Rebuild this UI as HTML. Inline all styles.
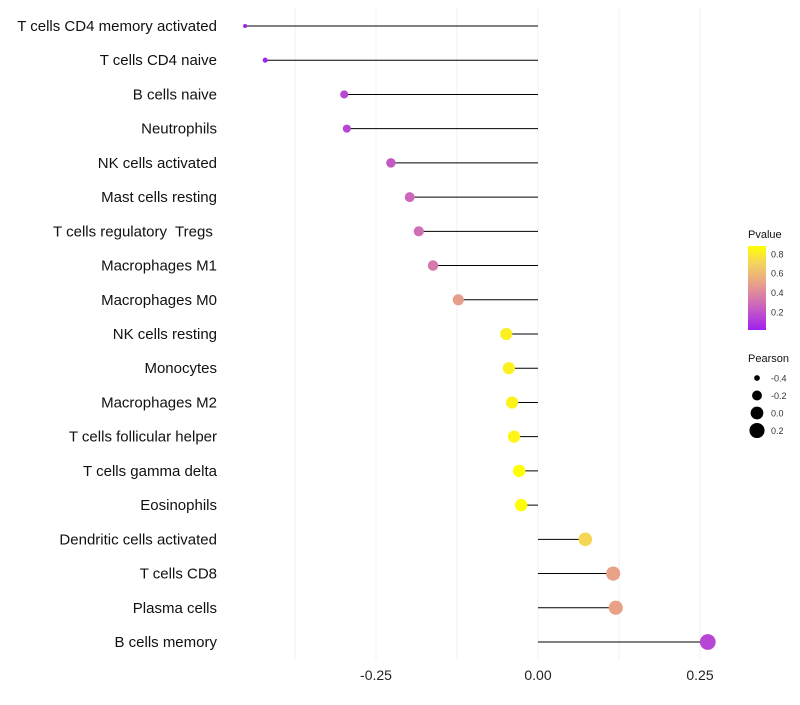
<!DOCTYPE html>
<html><head><meta charset="utf-8"><style>
body{margin:0;background:#fff;font-family:"Liberation Sans",sans-serif}
text{white-space:pre}
</style></head><body>
<svg id="chart" width="800" height="700" xmlns="http://www.w3.org/2000/svg"></svg>
<script>
const categories=["T cells CD4 memory activated","T cells CD4 naive","B cells naive","Neutrophils","NK cells activated","Mast cells resting","T cells regulatory  Tregs ","Macrophages M1","Macrophages M0","NK cells resting","Monocytes","Macrophages M2","T cells follicular helper","T cells gamma delta","Eosinophils","Dendritic cells activated","T cells CD8","Plasma cells","B cells memory"];
const pearson=[-0.452,-0.421,-0.299,-0.295,-0.227,-0.198,-0.184,-0.162,-0.123,-0.049,-0.045,-0.040,-0.037,-0.029,-0.026,0.073,0.116,0.120,0.262];
const pvalue=[0.01,0.03,0.15,0.15,0.22,0.27,0.3,0.34,0.48,0.82,0.82,0.83,0.84,0.88,0.88,0.72,0.5,0.5,0.15];
const xTicks=[-0.25,0,0.25];
const xTickLabels=["-0.25","0.00","0.25"];
const pTicks=[0.2,0.4,0.6,0.8];
const sizeTicks=[-0.4,-0.2,0.0,0.2];

const svg=document.getElementById('chart');
const NS='http://www.w3.org/2000/svg';
function mk(t,a,p){const e=document.createElementNS(NS,t);for(const k in a)e.setAttribute(k,a[k]);(p||svg).appendChild(e);return e;}
const x=v=>538+v*648;
const y=i=>26+i*(616/(categories.length-1));
const pMin=0.014,pMax=0.88;
const stops=[[0,[160,32,240]],[0.3,[206,104,186]],[0.55,[232,160,138]],[0.8,[245,212,92]],[1,[255,255,0]]];
function col(p){let t=Math.max(0,Math.min(1,(p-pMin)/(pMax-pMin)));for(let k=1;k<stops.length;k++){if(t<=stops[k][0]){const a=stops[k-1],b=stops[k];const u=(t-a[0])/(b[0]-a[0]);return `rgb(${a[1].map((v,j)=>Math.round(v+(b[1][j]-v)*u))})`;}}return 'rgb(255,255,0)';}
const sMin=Math.min(...pearson),sMax=Math.max(...pearson);
function rad(v){const t=(v-sMin)/(sMax-sMin);return Math.sqrt(4+(62-4)*Math.max(0,t));}

for(let g=-0.375;g<=0.25001;g+=0.125){const l=mk('line',{x1:x(g),x2:x(g),y1:8,y2:660,stroke:'#f0f0f0','stroke-width':1});}
xTicks.forEach((t,i)=>{const tx=mk('text',{x:x(t),y:680,'text-anchor':'middle','font-size':14,fill:'#222'});tx.textContent=xTickLabels[i];});

categories.forEach((c,i)=>{
 const lb=mk('text',{x:217,y:y(i)+5,'text-anchor':'end','font-size':15,fill:'#111'});lb.textContent=c;
 
 
 const ln=mk('line',{x1:x(0),x2:x(pearson[i]),y1:y(i),y2:y(i),stroke:'#000','stroke-width':1});
 
 
 const pt=mk('circle',{cx:x(pearson[i]),cy:y(i),r:rad(pearson[i]),fill:col(pvalue[i])});
 
 
});

const lt=mk('text',{x:748,y:238,'font-size':11,fill:'#111'});lt.textContent='Pvalue';


const defs=mk('defs',{});const gr=mk('linearGradient',{id:'pg',x1:0,y1:1,x2:0,y2:0},defs);
stops.forEach(s=>mk('stop',{offset:s[0],'stop-color':`rgb(${s[1]})`},gr));
const cb=mk('rect',{x:748,y:246,width:18,height:84,fill:'url(#pg)'});


const py=p=>330-(p-pMin)/(pMax-pMin)*84;
pTicks.forEach(p=>{const t=mk('text',{x:771,y:py(p)+3.5,'font-size':9,fill:'#333'});t.textContent=p.toFixed(1);});
const st=mk('text',{x:748,y:362,'font-size':11,fill:'#111'});st.textContent='Pearson';


sizeTicks.forEach((s,i)=>{const cy=378+i*17.5;const c=mk('circle',{cx:757,cy:cy,r:rad(s),fill:'#000'});
const t=mk('text',{x:771,y:cy+3.5,'font-size':9,fill:'#333'});t.textContent=s.toFixed(1);});
</script>
</body></html>
